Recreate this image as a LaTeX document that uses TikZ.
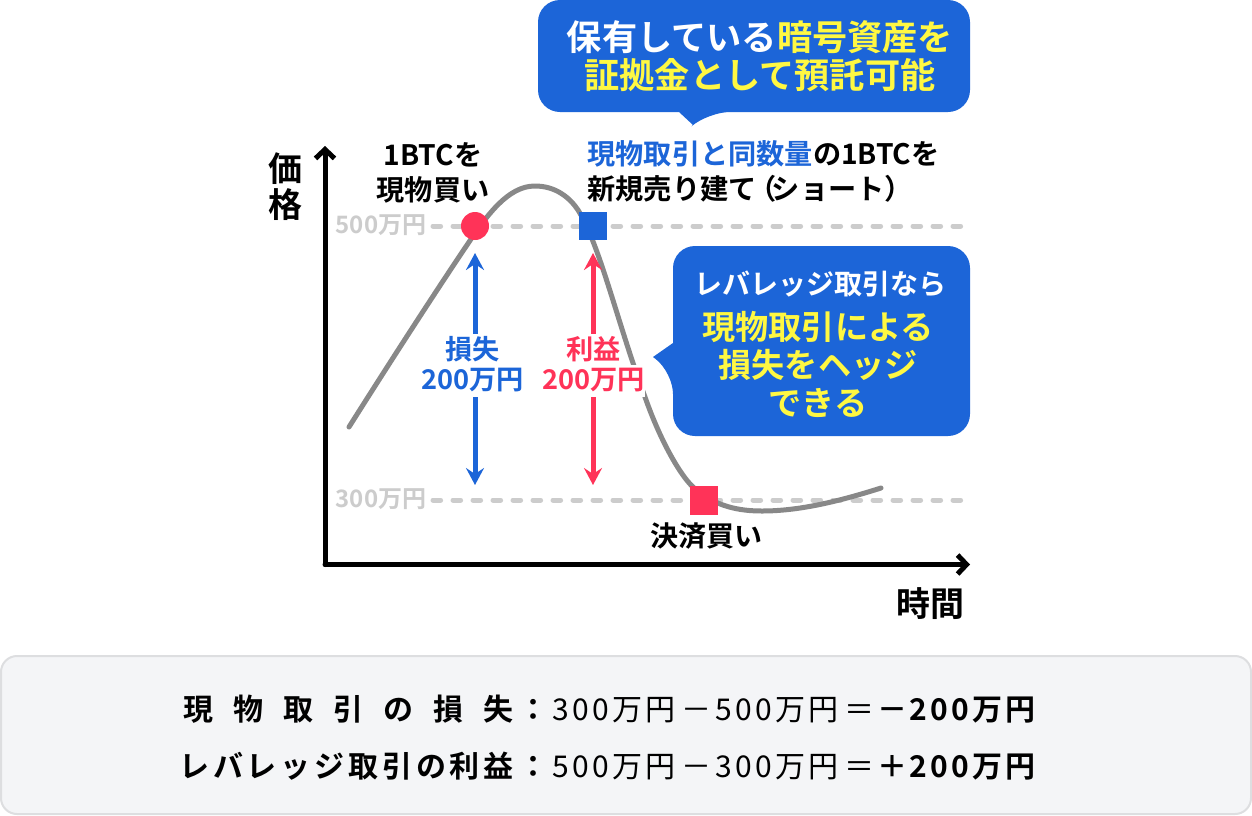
\documentclass[tikz,border=0pt]{standalone}
\usepackage{fontspec}
\usetikzlibrary{arrows.meta}
\setmainfont{Noto Sans CJK JP}[BoldFont={Noto Sans CJK JP Bold}]
\definecolor{cblue}{HTML}{1C65D8}
\definecolor{cred}{HTML}{FF3358}
\definecolor{cgray}{HTML}{888888}
\definecolor{cdash}{HTML}{CCCCCC}
\definecolor{cyel}{HTML}{FFF842}
\definecolor{cpanel}{HTML}{F4F5F7}
\definecolor{cpanelb}{HTML}{DDDEE0}
\newcommand{\fs}[2]{\fontsize{#1}{#2}\selectfont}
\tikzset{
  txt/.style={inner sep=0pt,align=center,text=black},
  sz/.style n args={2}{font=\bfseries\fs{#1}{#2}},
  nsz/.style n args={2}{font=\fs{#1}{#2}\addfontfeature{LetterSpace=11}},
  axisline/.style={line width=2.5pt,draw=black,line cap=round,line join=round,-{Straight Barb[length=4.5pt,width=9.5pt,line width=2.5pt]}},
  level/.style={line width=2.5pt,draw=cdash,line cap=round,dash pattern=on 3.8pt off 6.2pt},
  price/.style={txt,text=cdash,sz={12pt}{13pt}},
  dbl/.style={line width=2.5pt,{Stealth[length=8.5pt,width=9pt,inset=3pt]}-{Stealth[length=8.5pt,width=9pt,inset=3pt]}},
  bubble/.style={fill=cblue,draw=none,rounded corners=11pt},
  tag/.style={txt,fill=white,sz={13.6pt}{15pt},inner sep=0pt,minimum height=16pt},
  curve/.style={line width=2.5pt,draw=cgray,line cap=round},
  eqn/.style={txt,nsz={15pt}{18pt}},
  eqb/.style={txt,font=\bfseries\fs{15pt}{18pt}\addfontfeature{LetterSpace=11}}
}
\begin{document}
\begin{tikzpicture}[x=0.5pt,y=-0.5pt]
\useasboundingbox (0,0) rectangle (1252,815);
\fill[white] (0,0) rectangle (1252,815);

% coordinates
\coordinate (org) at (325,564.5);
\coordinate (ytop) at (325,146);
\coordinate (xend) at (970,564.5);
\coordinate (l5a) at (433,226);
\coordinate (l5b) at (965,226);
\coordinate (l3a) at (433,500);
\coordinate (l3b) at (965,500);
\coordinate (bt) at (475,253);
\coordinate (bb) at (475,485);
\coordinate (rt) at (593,253);
\coordinate (rb) at (593,485);

% axes
\draw[axisline] (org) -- (ytop);
\draw[axisline] (org) -- (xend);

% levels
\draw[level] (l5a) -- (l5b);
\draw[level] (l3a) -- (l3b);

% price curve
\draw[curve] (349,427) .. controls (385,370) and (430,300) .. (467,245)
  .. controls (487,215) and (508,186) .. (535,186)
  .. controls (556,186) and (570,198) .. (578,210)
  .. controls (600,245) and (618,325) .. (645,397)
  .. controls (660,440) and (680,475) .. (693,487)
  .. controls (715,507) and (740,511) .. (762,511)
  .. controls (800,511) and (840,501) .. (881,488);

% markers
\fill[cred] (475,226) circle[radius=14];
\fill[cblue] (579,212) rectangle (607,240);
\fill[cred] (690,486) rectangle (718,515);

% double arrows
\draw[dbl,draw=cblue,color=cblue] (bt) -- (bb);
\draw[dbl,draw=cred,color=cred] (rt) -- (rb);
\node[tag,text=cblue] (loss1) at (472.5,349.5) {損失};
\node[tag,text=cblue] (loss2) at (472.5,380.5) {200万円};
\node[tag,text=cred] (gain1) at (593.5,349.5) {利益};
\node[tag,text=cred] (gain2) at (593.5,380.5) {200万円};

% axis labels
\node[txt,sz={17pt}{18pt}] (yl) at (285,187) {価\\格};
\node[txt,sz={17pt}{18pt}] (xl) at (930,604) {時間};
\node[price] (p5) at (381,225) {500万円};
\node[price] (p3) at (381,499) {300万円};

% chart labels
\node[txt,sz={14.1pt}{17.5pt}] (buy) at (433,173) {1BTCを\\現物買い};
\node[txt,align=left,anchor=west,sz={14.1pt}{17.5pt}] (short) at (587,171) {\textcolor{cblue}{現物取引と同数量}の1BTCを\\新規売り建て\hspace{-4pt}（\hspace{-2.5pt}ショート）};
\node[txt,sz={14pt}{16pt}] (close) at (706,536) {決済買い};

% top bubble
\fill[bubble] (538,0) -- (970,0) -- (970,112) -- (708,112) [sharp corners] -- (693,125) -- (679,112) [rounded corners=11pt] -- (538,112) -- cycle;
\node[txt,text=white,sz={17.6pt}{19pt}] (top) at (760,56.5) {保有している\textcolor{cyel}{暗号資産を}\\\textcolor{cyel}{証拠金として預託可能}};

% right bubble
\fill[bubble] (673,246) -- (970,246) -- (970,436) -- (673,436) -- (673,372) [sharp corners] -- (653,357) -- (673,343) [rounded corners=11pt] -- cycle;
\node[txt,text=white,sz={14pt}{16pt}] (hdg) at (820,284) {レバレッジ取引なら};
\node[txt,text=cyel,sz={16.6pt}{19pt}] (hdg2) at (818,364) {現物取引による\\損失をヘッジ\\できる};

% bottom panel
\draw[fill=cpanel,draw=cpanelb,line width=1pt,rounded corners=8pt] (1,656) rectangle (1251,814);
\node[txt,anchor=base west,sz={15pt}{18pt}] (a1) at (183,720) {\makebox[165pt][s]{現\hfill 物\hfill 取\hfill 引\hfill の\hfill 損\hfill 失}};
\node[txt,anchor=base west,font=\bfseries\fs{15pt}{18pt}\addfontfeature{LetterSpace=12.7}] (b1) at (179,777) {レバレッジ取引の利益};
\node[txt,anchor=base,sz={15pt}{18pt}] (a2) at (533,720) {：};
\node[txt,anchor=base,sz={15pt}{18pt}] (b2) at (533,777) {：};

\node[eqn,anchor=base west] (a3) at (552,720) {300万円};
\node[eqn,anchor=base] (a4) at (696,720) {－};
\node[eqn,anchor=base west] (a5) at (715,720) {500万円};
\node[eqn,anchor=base] (a6) at (859,720) {＝};
\node[eqb,anchor=base] (a7) at (892,720) {－};
\node[eqb,anchor=base west] (a8) at (909,720) {200万円};

\node[eqn,anchor=base west] (b3) at (552,777) {500万円};
\node[eqn,anchor=base] (b4) at (696,777) {－};
\node[eqn,anchor=base west] (b5) at (715,777) {300万円};
\node[eqn,anchor=base] (b6) at (859,777) {＝};
\node[eqb,anchor=base] (b7) at (892,777) {＋};
\node[eqb,anchor=base west] (b8) at (909,777) {200万円};
\end{tikzpicture}
\end{document}
